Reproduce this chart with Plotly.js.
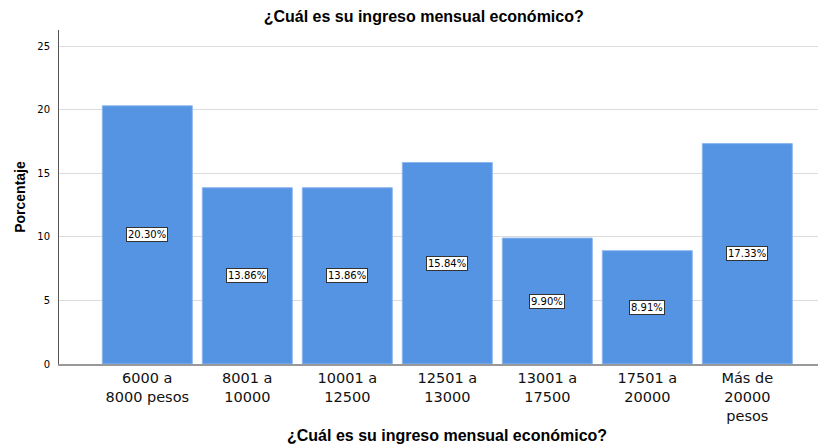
<!DOCTYPE html>
<html>
<head>
<meta charset="utf-8">
<script src="https://cdn.plot.ly/plotly-3.0.1.min.js"></script>
<style>html,body{margin:0;padding:0;background:#fff;}#chart{width:818px;height:444px;}</style>
</head>
<body>
<div id="chart"></div>
<script>
const categories = ["6000 a<br>8000 pesos", "8001 a<br>10000", "10001 a<br>12500", "12501 a<br>13000", "13001 a<br>17500", "17501 a<br>20000", "Más de<br>20000<br>pesos"];
const percentages = [20.30, 13.86, 13.86, 15.84, 9.90, 8.91, 17.33];
const labels = ["20.30%", "13.86%", "13.86%", "15.84%", "9.90%", "8.91%", "17.33%"];
const yTicks = [0, 5, 10, 15, 20, 25];
const titleText = "¿Cuál es su ingreso mensual económico?";

const idx = categories.map((c, i) => i);

const trace = {
  type: 'bar',
  x: idx,
  y: percentages,
  marker: {color: '#5593e3', line: {color: '#8cb8ee', width: 1}},
  hoverinfo: 'none'
};

const annotations = idx.map((i) => ({
  x: i, y: percentages[i] / 2, xref: 'x', yref: 'y',
  text: labels[i], showarrow: false,
  bgcolor: '#ffffff', bordercolor: '#333333', borderwidth: 1, borderpad: 1,
  font: {family: 'DejaVu Sans', size: 10, color: '#000'}
}));

annotations.push({
  xref: 'paper', yref: 'paper', x: 0.511, y: -0.2126, xanchor: 'center', yanchor: 'middle',
  text: titleText, showarrow: false,
  font: {family: 'Liberation Sans', size: 16, color: '#000', weight: 'bold'}
});

const layout = {
  width: 818, height: 444,
  margin: {l: 59, r: 0, t: 30, b: 80},
  paper_bgcolor: '#fff', plot_bgcolor: '#fff',
  bargap: 0.1,
  showlegend: false,
  title: {text: titleText, x: 0.518, xanchor: 'center', y: 0.962, yanchor: 'middle',
          font: {family: 'Liberation Sans', size: 16, color: '#000', weight: 'bold'}},
  xaxis: {
    range: [-0.883, 6.707],
    tickmode: 'array', tickvals: idx, ticktext: categories,
    tickfont: {family: 'DejaVu Sans', size: 14.5, color: '#111'},
    showgrid: false, zeroline: false,
    showline: true, linecolor: '#999999', linewidth: 2,
    ticks: ''
  },
  yaxis: {
    range: [0, 26.26],
    tickmode: 'array', tickvals: yTicks,
    tickfont: {family: 'DejaVu Sans', size: 10, color: '#000'},
    showgrid: true, gridcolor: '#dcdcdc', gridwidth: 1,
    zeroline: false,
    showline: true, linecolor: '#555555', linewidth: 1,
    ticks: '', ticklabelstandoff: 6,
    title: {text: 'Porcentaje', standoff: 8,
            font: {family: 'Liberation Sans', size: 14, color: '#000', weight: 'bold'}}
  },
  annotations: annotations
};

Plotly.newPlot('chart', [trace], layout, {displayModeBar: false, staticPlot: true});
</script>
</body>
</html>
